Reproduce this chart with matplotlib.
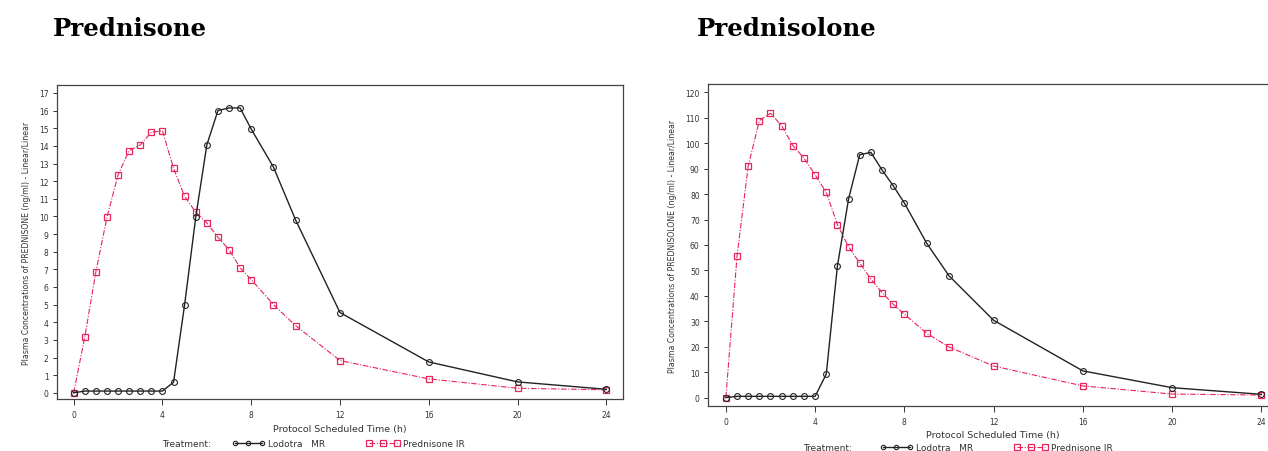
import matplotlib
matplotlib.use("Agg")
import matplotlib.pyplot as plt

# ---- data ----
times = [0, 0.5, 1, 1.5, 2, 2.5, 3, 3.5, 4, 4.5, 5, 5.5, 6, 6.5, 7, 7.5, 8, 9, 10, 12, 16, 20, 24]

pred_lodotra = [0, 0.1, 0.1, 0.1, 0.1, 0.1, 0.1, 0.1, 0.1, 0.6, 5.0, 9.95, 14.05, 16.0, 16.15, 16.15,
                14.95, 12.8, 9.8, 4.55, 1.75, 0.62, 0.2]
pred_ir = [0, 3.15, 6.85, 9.95, 12.35, 13.73, 14.05, 14.77, 14.86, 12.73, 11.14, 10.24, 9.63, 8.82,
           8.12, 7.08, 6.42, 5.0, 3.81, 1.83, 0.79, 0.26, 0.17]

solo_lodotra = [0, 0.5, 0.5, 0.5, 0.5, 0.5, 0.5, 0.5, 0.5, 9.2, 51.8, 78.1, 95.5, 96.4, 89.5, 83.3,
                76.5, 60.7, 47.9, 30.4, 10.5, 3.9, 1.3]
solo_ir = [0, 55.5, 90.9, 108.9, 111.8, 106.9, 99.1, 94.2, 87.6, 80.7, 68.0, 59.3, 52.9, 46.6, 41.3,
           36.7, 32.8, 25.3, 19.9, 12.4, 4.6, 1.4, 1.0]

xticks = [0, 4, 8, 12, 16, 20, 24]
yticks_left = list(range(0, 18))
yticks_right = list(range(0, 121, 10))

titles = ["Prednisone", "Prednisolone"]
ylabels = ["Plasma Concentrations of PREDNISONE (ng/ml) - Linear/Linear",
           "Plasma Concentrations of PREDNISOLONE (ng/ml) - Linear/Linear"]
xlabel = "Protocol Scheduled Time (h)"
series_names = ["Lodotra   MR", "Prednisone IR"]

RED = "#e8245a"
BLACK = "#222222"

W, H = 1268, 452
fig = plt.figure(figsize=(W / 100, H / 100), dpi=100)


def px_axes(left, top, right, bottom):
    return fig.add_axes([left / W, 1 - bottom / H, (right - left) / W, (bottom - top) / H])


ax1 = px_axes(57, 86, 623, 400)
ax2 = px_axes(708, 85, 1277, 407)

configs = [
    (ax1, pred_lodotra, pred_ir, yticks_left, (-0.35, 17.45), (-0.75, 24.75), ylabels[0], 3.5),
    (ax2, solo_lodotra, solo_ir, yticks_right, (-3.3, 123.3), (-0.8, 24.7), ylabels[1], 2.5),
]

handles = None
for ax, blk, red, yt, ylim, xlim, ylab, xpad in configs:
    l_red, = ax.plot(times, red, color=RED, lw=0.8, ls=(0, (5, 1.5, 1, 1.5)), marker="s", ms=5.0,
                     mfc="none", mec=RED, mew=0.9, zorder=3)
    l_blk, = ax.plot(times, blk, color=BLACK, lw=1.0, ls="-", marker="o", ms=4.2,
                     mfc="none", mec=BLACK, mew=0.8, zorder=4)
    handles = (l_blk, l_red)
    ax.set_xlim(*xlim)
    ax.set_ylim(*ylim)
    ax.set_xticks(xticks)
    ax.set_yticks(yt)
    ax.tick_params(axis="both", direction="out", length=3, width=0.7, labelsize=5.5,
                   colors="#333333", pad=3)
    ax.tick_params(axis="x", length=4, pad=4)
    for s in ax.spines.values():
        s.set_linewidth(0.9)
        s.set_color("#444444")
    ax.set_ylabel(ylab, fontsize=5.6, color="#333333", labelpad=6)
    ax.set_xlabel(xlabel, fontsize=6.8, color="#333333", labelpad=xpad)

# titles
fig.text(53 / W, 1 - 29 / H, titles[0], fontsize=17.6, fontweight="bold", family="DejaVu Serif",
         ha="left", va="center")
fig.text(697 / W, 1 - 29 / H, titles[1], fontsize=17.6, fontweight="bold", family="DejaVu Serif",
         ha="left", va="center")

# legends
for tx, lx, ly in [(162, 232, 445), (803, 880, 449)]:
    fig.text(tx / W, 1 - ly / H, "Treatment:", fontsize=6.5, color="#333333", ha="left", va="center")
    fig.legend(handles, series_names, loc="center left", bbox_to_anchor=(lx / W, 1 - ly / H),
               ncol=2, frameon=False, fontsize=6.5, handlelength=3.6, numpoints=3,
               markerscale=0.75, columnspacing=4.6, handletextpad=0.4, borderpad=0,
               borderaxespad=0, labelcolor="#333333")

fig.savefig("out.png", dpi=100)
